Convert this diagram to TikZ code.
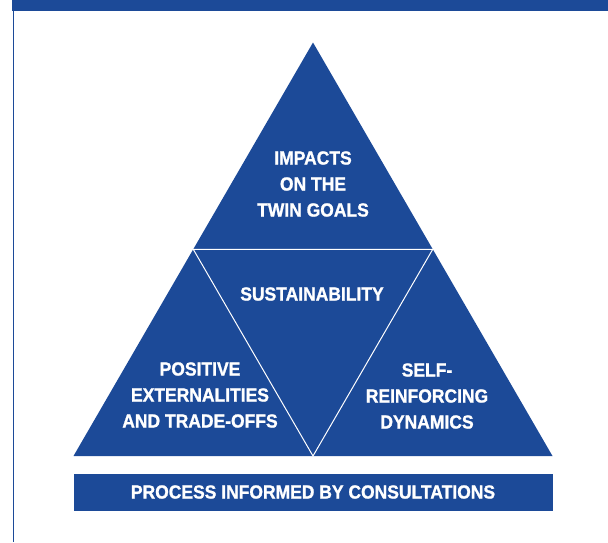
\documentclass[tikz,border=0pt]{standalone}
\usepackage{fontspec}
\usetikzlibrary{calc}
\newfontfamily\facefont{Liberation Sans}[FakeStretch=0.92, BoldFeatures={FakeBold=1.2}]
\definecolor{pyramidblue}{RGB}{28,74,152}
\begin{document}
\begin{tikzpicture}[
    x=1pt, y=-1pt,
    inner line/.style={white, line width=1pt},
    facetext/.style={text=white, align=center, inner sep=0pt,
        font=\facefont\bfseries\fontsize{19}{26}\selectfont}
]
    \useasboundingbox (0,0) rectangle (608,542);
    % Frame
    \fill[pyramidblue] (12,0) rectangle (608,11);
    \draw[pyramidblue, line width=1.4pt] (13.5,11) -- (13.5,542);
    % Corners of the pyramid
    \coordinate (apex) at (313,42.5);
    \coordinate (left) at (73.5,456);
    \coordinate (right) at (552.5,456);
    \coordinate (midL) at ($(apex)!0.5!(left)$);
    \coordinate (midR) at ($(apex)!0.5!(right)$);
    \coordinate (midB) at ($(left)!0.5!(right)$);
    \fill[pyramidblue] (apex) -- (left) -- (right) -- cycle;
    \draw[inner line] (midL) -- (midR) -- (midB) -- cycle;
    % Faces
    \node[facetext] (impacts) at (313,184) {IMPACTS\\ON THE\\TWIN GOALS};
    \node[facetext] (sustain) at (312,294) {SUSTAINABILITY};
    \node[facetext] (extern) at (200,395) {POSITIVE\\EXTERNALITIES\\AND TRADE-OFFS};
    \node[facetext] (selfreinf) at (427,396) {SELF-\\REINFORCING\\DYNAMICS};
    % Base
    \node[facetext, fill=pyramidblue, minimum width=479pt, minimum height=37pt]
        (process) at (313,492) {PROCESS INFORMED BY CONSULTATIONS};
\end{tikzpicture}
\end{document}
